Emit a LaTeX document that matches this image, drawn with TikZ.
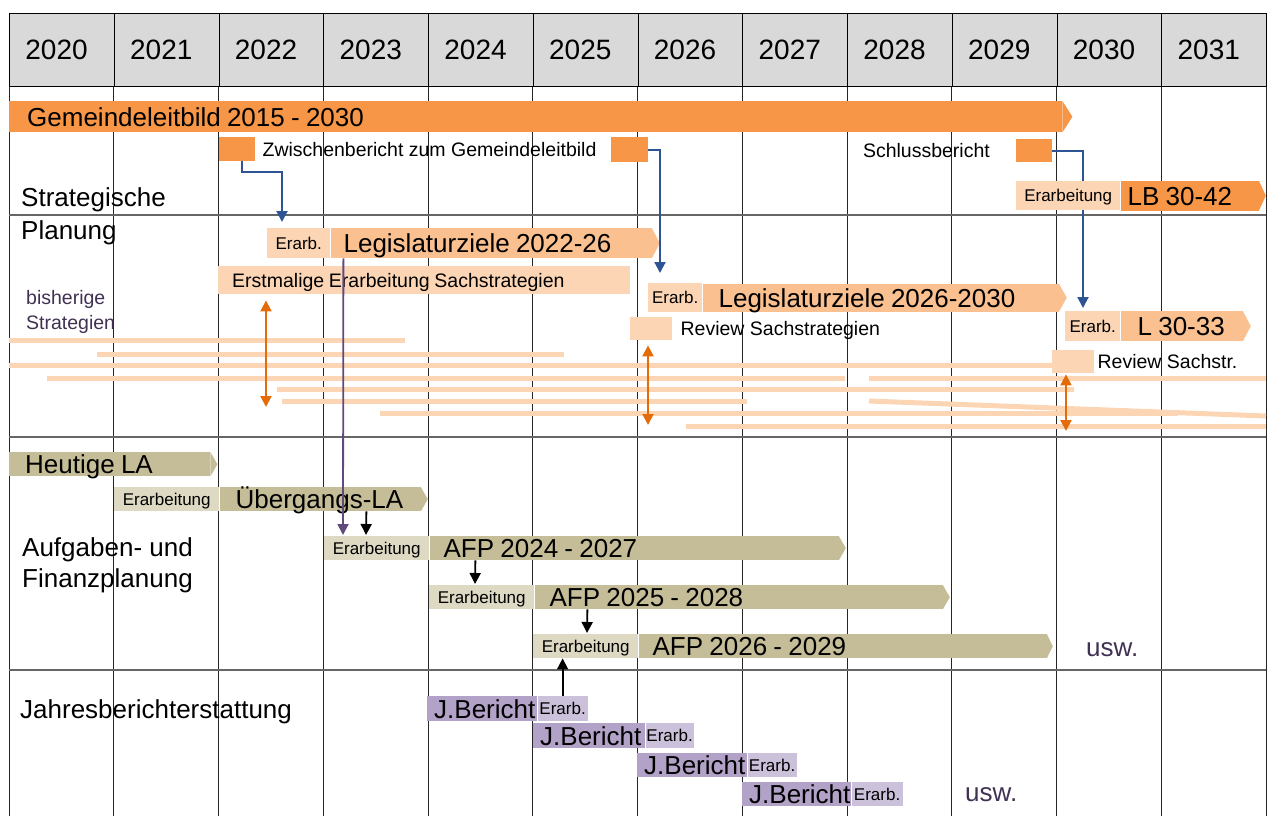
\documentclass[tikz,border=0pt]{standalone}
\usepackage{fontspec}
\setmainfont{Liberation Sans}
\usetikzlibrary{arrows.meta,calc,positioning}

\definecolor{headgray}{HTML}{D9D9D9}
\definecolor{orangeA}{HTML}{F79646}
\definecolor{peachM}{HTML}{FAC090}
\definecolor{peachL}{HTML}{FCD5B5}
\definecolor{oliveD}{HTML}{C4BD97}
\definecolor{oliveL}{HTML}{DDD9C3}
\definecolor{lilaD}{HTML}{B3A2C7}
\definecolor{lilaL}{HTML}{CCC1DA}
\definecolor{lilaText}{HTML}{403152}
\definecolor{arrBlue}{HTML}{2F5496}
\definecolor{arrOrange}{HTML}{E36C09}
\definecolor{arrLila}{HTML}{604A7B}

\newcommand\fsyear{\fontsize{28}{34}\selectfont}
\newcommand\fsbig{\fontsize{26}{31}\selectfont}
\newcommand\fsmid{\fontsize{19.5}{25}\selectfont}
\newcommand\fssmall{\fontsize{17}{20}\selectfont}

% pointed end of a bar, on the east side of node #1
\newcommand\bartip[3]{\fill[#2] (#1.north east) -- ($(#1.east)+(#3,0)$) -- (#1.south east) -- cycle;}

\tikzset{
  yearcell/.style={draw=black, line width=0.8pt, fill=headgray, anchor=north west,
    minimum height=73pt, text width=72.75pt, inner xsep=16pt, inner ysep=0pt,
    align=left, font=\fsyear, text height=20pt, text depth=0pt},
  gridline/.style={draw=black!85, line width=0.8pt},
  secline/.style={draw=black!60, line width=1.8pt},
  dbar/.style 2 args={rectangle, inner sep=0pt, anchor=north west, align=left,
    text width=#1pt, execute at begin node={\noindent\spaceskip=0.24em\relax\hspace*{#2pt}},
    font=\fsbig, text height=18.6pt, text depth=0pt},
  ebox/.style={rectangle, inner sep=0pt, anchor=north west, align=center,
    font=\fssmall, text height=12.2pt, text depth=0pt},
  mtxt/.style={inner sep=0pt, font=\fsmid, text height=14pt, text depth=0pt},
  lbl/.style={anchor=base west, align=left, inner sep=0pt, font=\fsbig},
  sline/.style={draw=peachL, line width=5pt},
  barr/.style={draw=arrBlue, line width=2pt, ->},
  oarr/.style={draw=arrOrange, line width=2pt, <->},
  parr/.style={draw=arrLila, line width=1.8pt, ->},
  karr/.style={draw=black, line width=1.8pt, ->}
}

\begin{document}
\begin{tikzpicture}[x=1pt,y=-1pt,>={Triangle[length=11pt,width=11pt]}]
  \useasboundingbox (0,0) rectangle (1267,815);

  % header with the years, column lines below it
  \foreach \i in {0,...,11} {
    \pgfmathtruncatemacro\yr{2020+\i}
    \node[yearcell] (h\i) at ({9+\i*104.75},13) {\yr};
    \draw[gridline] (h\i.south west) -- ++(0,729);
  }
  \draw[gridline] (h11.south east) -- ++(0,729);

  % section lines
  \foreach \ys in {215,437,670}
    \draw[secline] (9,\ys) -- (1266,\ys);

  % row labels (base = last line)
  \node[lbl] (stp) at (21,239) {Strategische\\[1.5pt]Planung};
  \node[lbl, font=\fsmid, text=lilaText] (bis) at (26,329) {bisherige\\Strategien};
  \node[lbl] (afpl) at (22,587) {Aufgaben- und\\Finanzplanung};
  \node[lbl] (jbl) at (20,718) {Jahresberichterstattung};

  % strategic planning
  \node[dbar={1053}{18}, fill=orangeA, minimum height=31pt] (gl) at (9,101) {Gemeindeleitbild 2015 - 2030};
  \bartip{gl}{orangeA}{10}
  \node[ebox, fill=orangeA, minimum width=36pt, minimum height=24pt] (zwb1) at (219,137) {};
  \node[mtxt, right=7pt of zwb1] (zwbtxt) {Zwischenbericht zum Gemeindeleitbild};
  \node[ebox, fill=orangeA, minimum width=37pt, minimum height=25pt] (zwb2) at (611,137) {};
  \node[ebox, fill=orangeA, minimum width=36pt, minimum height=23pt] (slb) at (1016,139) {};
  \node[mtxt, left=26pt of slb] (slbtxt) {Schlussbericht};

  \node[ebox, fill=peachL, minimum width=63pt, minimum height=30pt] (lz1e) at (267,228) {Erarb.};
  \node[dbar={321}{13}, fill=peachM, minimum height=30pt, right=0pt of lz1e] (lz1) {Legislaturziele 2022-26};
  \bartip{lz1}{peachM}{8}
  \node[dbar={412}{14}, fill=peachL, minimum height=28pt, font=\fsmid, text height=14pt] (ess) at (218,266) {Erstmalige Erarbeitung Sachstrategien};
  \node[ebox, fill=peachL, minimum width=54pt, minimum height=29pt] (lz2e) at (648,283) {Erarb.};
  \node[dbar={356}{16}, fill=peachM, minimum height=28pt, right=0pt of lz2e] (lz2) {Legislaturziele 2026-2030};
  \bartip{lz2}{peachM}{8}
  \node[ebox, fill=peachL, minimum width=55pt, minimum height=30pt] (l3e) at (1065,311) {Erarb.};
  \node[dbar={122}{17}, fill=peachM, minimum height=30pt, right=0pt of l3e] (l3) {L 30-33};
  \bartip{l3}{peachM}{8}
  \node[ebox, fill=peachL, minimum width=42pt, minimum height=23pt] (rev1) at (630,317) {};
  \node[mtxt, right=8pt of rev1] (rev1txt) {Review Sachstrategien};
  \node[ebox, fill=peachL, minimum width=42pt, minimum height=23pt] (rev2) at (1052,350) {};
  \node[mtxt, right=3pt of rev2] (rev2txt) {Review Sachstr.};

  % reports feed the next round
  \draw[barr] ($(zwb1.south)+(5,0)$) -- ++(0,11) -| ($(lz1e.north west)+(15,-6)$);
  \draw[barr] (zwb2.east) -| ($(lz2e.north west)+(12,-10)$);
  \draw[barr] (slb.east) -| ($(l3e.north west)+(18,-3)$);
  \node[ebox, fill=peachL, minimum width=104pt, minimum height=29pt] (lbe) at (1016,181) {Erarbeitung};
  \node[dbar={138}{7}, fill=orangeA, minimum height=30pt, right=0pt of lbe] (lb) {LB 30-42};
  \bartip{lb}{orangeA}{7}

  % bisherige Strategien
  \foreach \ya/\xa/\xb in {340/9/405, 354/97/564, 365/9/1052, 378/47/845, 378/869/1266,
      389/277/1074, 401/282/747, 413/380/1178, 426/686/1266}
    \draw[sline] (\xa,\ya) -- (\xb,\ya);
  \draw[sline] (869,401) -- (1266,416);

  \coordinate (oa1) at (266,407);
  \coordinate (oa2) at (648,425);
  \coordinate (oa3) at (1066,431);
  \draw[oarr, shorten <=6pt] (oa1 |- ess.south) -- (oa1);
  \draw[oarr, shorten <=5pt] (oa2 |- rev1.south) -- (oa2);
  \draw[oarr, shorten <=1pt] (oa3 |- rev2.south) -- (oa3);

  % Aufgaben- und Finanzplanung
  \node[dbar={201}{16}, fill=oliveD, minimum height=24pt] (hla) at (9,452) {Heutige LA};
  \bartip{hla}{oliveD}{7}
  \node[ebox, fill=oliveL, minimum width=105pt, minimum height=24pt] (uebe) at (114,487) {Erarbeitung};
  \node[dbar={201}{16}, fill=oliveD, minimum height=24pt, right=0pt of uebe] (ueb) {Übergangs-LA};
  \bartip{ueb}{oliveD}{7}
  \node[ebox, fill=oliveL, minimum width=105pt, minimum height=24pt] (afp1e) at (324,536) {Erarbeitung};
  \node[dbar={409}{14}, fill=oliveD, minimum height=24pt, right=0pt of afp1e] (afp1) {AFP 2024 - 2027};
  \bartip{afp1}{oliveD}{7}
  \node[ebox, fill=oliveL, minimum width=105pt, minimum height=24pt] (afp2e) at (429,585) {Erarbeitung};
  \node[dbar={408}{15}, fill=oliveD, minimum height=24pt, right=0pt of afp2e] (afp2) {AFP 2025 - 2028};
  \bartip{afp2}{oliveD}{7}
  \node[ebox, fill=oliveL, minimum width=105pt, minimum height=24pt] (afp3e) at (533,634) {Erarbeitung};
  \node[dbar={408}{14}, fill=oliveD, minimum height=24pt, right=0pt of afp3e] (afp3) {AFP 2026 - 2029};
  \bartip{afp3}{oliveD}{6}
  \node[lbl, text=lilaText] (usw1) at (1086,656) {usw.};

  \draw[parr] ($(lz1.south west)+(13,0)$) -- ($(afp1e.north west)+(19,-1)$);
  \draw[karr] ($(ueb.south west)+(147,0)$) -- ($(afp1e.north west)+(42,-1)$);
  \draw[karr] ($(afp1.south west)+(46,0)$) -- ($(afp2e.north west)+(46,-1)$);
  \draw[karr] ($(afp2.south west)+(53,0)$) -- ($(afp3e.north west)+(54,-1)$);

  % Jahresberichterstattung
  \node[dbar={110}{7}, fill=lilaD, minimum height=25pt] (jb1) at (427,696) {J.Bericht};
  \node[ebox, fill=lilaL, minimum width=50pt, minimum height=25pt, right=0pt of jb1] (jb1e) {Erarb.};
  \node[dbar={112}{7}, fill=lilaD, minimum height=25pt] (jb2) at (533,723) {J.Bericht};
  \node[ebox, fill=lilaL, minimum width=48pt, minimum height=25pt, right=0pt of jb2] (jb2e) {Erarb.};
  \node[dbar={110}{7}, fill=lilaD, minimum height=24pt] (jb3) at (637,753) {J.Bericht};
  \node[ebox, fill=lilaL, minimum width=49pt, minimum height=24pt, right=0pt of jb3] (jb3e) {Erarb.};
  \node[dbar={109}{7}, fill=lilaD, minimum height=24pt] (jb4) at (742,782) {J.Bericht};
  \node[ebox, fill=lilaL, minimum width=51pt, minimum height=24pt, right=0pt of jb4] (jb4e) {Erarb.};
  \node[lbl, text=lilaText] (usw2) at (965,801) {usw.};

  \draw[karr] (jb1e.north) -- (jb1e.north |- afp3e.south);
\end{tikzpicture}
\end{document}
